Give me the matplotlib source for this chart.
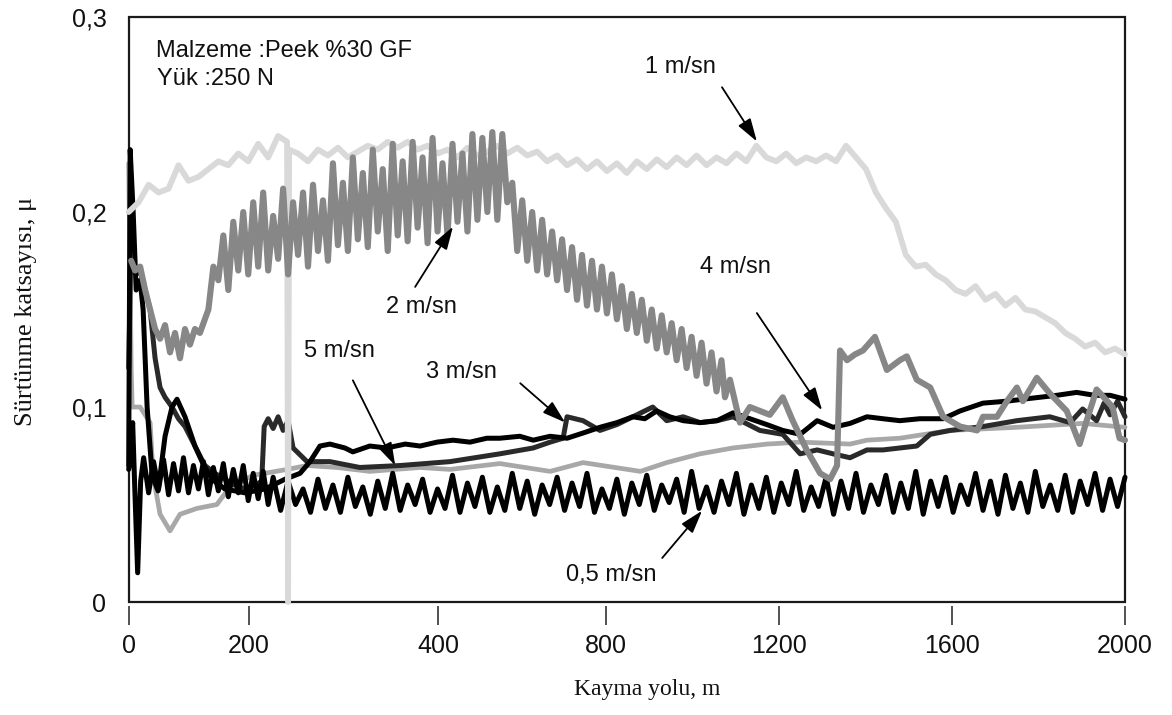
"""Friction coefficient vs sliding distance, PEEK %30 GF at 250 N."""
import numpy as np
import matplotlib
matplotlib.use('Agg')
import matplotlib.pyplot as plt
from matplotlib.patches import Rectangle

SANS = ['Liberation Sans', 'DejaVu Sans']
SERIF = ['Liberation Serif', 'DejaVu Serif']
INK = '#111111'

# x tick marks sit at uneven spots in the original figure
XTICK_POS = [0, 241, 621, 958, 1306, 1653, 2000]
XTICK_LABELS = ['0', '200', '400', '800', '1200', '1600', '2000']
YTICKS = [0, 0.1, 0.2, 0.3]
YTICK_LABELS = ['0', '0,1', '0,2', '0,3']

# ---- 1 m/sn (light grey) ----
X_1 = [0, 20, 40, 60, 80, 100, 120, 140, 160, 180, 200, 220, 240, 260, 280, 300,
       318, 320, 322, 340, 360, 380, 400, 420, 440, 460, 480, 500, 520, 540, 560,
       580, 600, 620, 640, 660, 680, 700, 720, 740, 760, 780, 800, 820, 840, 860,
       880, 900, 920, 940, 960, 980, 1000, 1020, 1040, 1060, 1080, 1100, 1120,
       1140, 1160, 1180, 1200, 1220, 1240, 1260, 1280, 1300, 1320, 1340, 1360,
       1380, 1400, 1420, 1440, 1460, 1480, 1500, 1520, 1540, 1560, 1580, 1600,
       1620, 1640, 1660, 1680, 1700, 1720, 1740, 1760, 1780, 1800, 1820, 1840,
       1860, 1880, 1900, 1920, 1940, 1960, 1980, 2000]
Y_1 = [0.200, 0.205, 0.214, 0.210, 0.212, 0.224, 0.216, 0.218, 0.222, 0.226,
       0.224, 0.230, 0.226, 0.235, 0.228, 0.239, 0.236, 0.0, 0.232, 0.230,
       0.226, 0.232, 0.229, 0.233, 0.228, 0.231, 0.234, 0.232, 0.236, 0.233,
       0.236, 0.232, 0.234, 0.230, 0.232, 0.228, 0.233, 0.229, 0.231, 0.234,
       0.230, 0.233, 0.229, 0.231, 0.226, 0.229, 0.224, 0.227, 0.222, 0.226,
       0.221, 0.225, 0.220, 0.226, 0.222, 0.227, 0.223, 0.228, 0.224, 0.229,
       0.224, 0.228, 0.225, 0.230, 0.226, 0.234, 0.228, 0.226, 0.230, 0.225,
       0.228, 0.226, 0.229, 0.226, 0.234, 0.228, 0.222, 0.210, 0.202, 0.195,
       0.178, 0.172, 0.173, 0.168, 0.165, 0.160, 0.158, 0.162, 0.155, 0.158,
       0.152, 0.156, 0.150, 0.149, 0.146, 0.143, 0.138, 0.135, 0.131, 0.133,
       0.128, 0.130, 0.127]

# ---- 2 m/sn (mid grey) ----
X_2_START = [5, 13, 23, 33, 43, 53, 63, 73, 83, 93, 103, 113, 123, 133, 143, 153]
Y_2_START = [0.175, 0.170, 0.172, 0.160, 0.150, 0.140, 0.135, 0.142, 0.128,
             0.138, 0.125, 0.140, 0.132, 0.140, 0.138, 0.145]
X_2_BAND = np.arange(160, 1191, 10)
Y_2_BAND = [0.150, 0.172, 0.165, 0.188, 0.160, 0.195, 0.170, 0.200, 0.168, 0.205,
            0.172, 0.210, 0.170, 0.198, 0.176, 0.212, 0.168, 0.205, 0.178, 0.210,
            0.172, 0.214, 0.180, 0.206, 0.175, 0.225, 0.183, 0.215, 0.180, 0.228,
            0.186, 0.220, 0.182, 0.232, 0.190, 0.222, 0.180, 0.235, 0.188, 0.226,
            0.185, 0.236, 0.192, 0.228, 0.184, 0.238, 0.190, 0.225, 0.188, 0.235,
            0.195, 0.230, 0.190, 0.240, 0.196, 0.238, 0.200, 0.241, 0.196, 0.240,
            0.205, 0.215, 0.180, 0.206, 0.175, 0.200, 0.170, 0.196, 0.168, 0.190,
            0.165, 0.186, 0.160, 0.182, 0.155, 0.178, 0.152, 0.175, 0.150, 0.172,
            0.148, 0.168, 0.145, 0.162, 0.140, 0.158, 0.138, 0.155, 0.134, 0.150,
            0.130, 0.147, 0.128, 0.143, 0.124, 0.140, 0.120, 0.136, 0.116, 0.133,
            0.112, 0.128, 0.108, 0.124]
X_2_END = [1197, 1207, 1227, 1247, 1267, 1287, 1313, 1333, 1361, 1388, 1408, 1422,
           1428, 1442, 1458, 1474, 1498, 1522, 1548, 1562, 1582, 1609, 1635, 1669,
           1703, 1715, 1743, 1763, 1783, 1795, 1823, 1849, 1883, 1909, 1923, 1943,
           1975, 1989, 2000]
Y_2_END = [0.105, 0.114, 0.092, 0.100, 0.098, 0.096, 0.105, 0.093, 0.078, 0.066,
           0.063, 0.070, 0.129, 0.124, 0.127, 0.129, 0.136, 0.119, 0.124, 0.126,
           0.114, 0.110, 0.095, 0.090, 0.088, 0.095, 0.095, 0.103, 0.110, 0.103,
           0.115, 0.107, 0.098, 0.081, 0.093, 0.109, 0.100, 0.084, 0.083]

# ---- 3 m/sn (dark grey) ----
X_3 = [0, 4, 15, 23, 33, 43, 53, 63, 73, 87, 100, 113, 133, 153, 173, 193, 213,
       233, 255, 267, 272, 280, 290, 300, 310, 320, 330, 358, 404, 464, 545, 645,
       745, 812, 846, 872, 880, 912, 946, 980, 1012, 1052, 1080, 1113, 1147, 1181,
       1213, 1267, 1313, 1348, 1382, 1414, 1448, 1482, 1514, 1548, 1582, 1609,
       1649, 1715, 1783, 1849, 1890, 1915, 1943, 1958, 1970, 1985, 2000]
Y_3 = [0.120, 0.175, 0.168, 0.170, 0.160, 0.150, 0.125, 0.110, 0.105, 0.100,
       0.094, 0.090, 0.080, 0.070, 0.066, 0.063, 0.060, 0.058, 0.060, 0.062,
       0.090, 0.094, 0.089, 0.095, 0.088, 0.093, 0.079, 0.072, 0.072, 0.069,
       0.070, 0.072, 0.076, 0.079, 0.082, 0.084, 0.095, 0.093, 0.088, 0.091,
       0.095, 0.100, 0.093, 0.095, 0.092, 0.093, 0.095, 0.088, 0.086, 0.076,
       0.078, 0.076, 0.074, 0.078, 0.078, 0.079, 0.080, 0.086, 0.088, 0.090,
       0.093, 0.095, 0.092, 0.099, 0.093, 0.102, 0.096, 0.103, 0.095]

# ---- 4 m/sn (black, upper) ----
X_4 = [0, 3, 9, 15, 23, 29, 37, 47, 59, 73, 87, 97, 113, 133, 149, 167, 193, 233,
       274, 314, 344, 364, 384, 404, 434, 450, 484, 518, 555, 585, 619, 651, 685,
       719, 745, 785, 812, 846, 880, 916, 946, 980, 1012, 1036, 1060, 1086, 1113,
       1147, 1181, 1213, 1247, 1281, 1313, 1348, 1382, 1414, 1448, 1482, 1514,
       1548, 1588, 1635, 1669, 1715, 1763, 1795, 1829, 1863, 1903, 1939, 1970, 2000]
Y_4 = [0.070, 0.232, 0.200, 0.160, 0.165, 0.150, 0.100, 0.065, 0.057, 0.085,
       0.100, 0.104, 0.095, 0.080, 0.071, 0.063, 0.058, 0.056, 0.058, 0.063,
       0.066, 0.072, 0.080, 0.081, 0.079, 0.077, 0.080, 0.079, 0.081, 0.080,
       0.082, 0.083, 0.082, 0.084, 0.084, 0.085, 0.083, 0.085, 0.084, 0.087,
       0.0896, 0.092, 0.095, 0.094, 0.098, 0.095, 0.093, 0.092, 0.093, 0.097,
       0.094, 0.091, 0.088, 0.086, 0.093, 0.0896, 0.0916, 0.095, 0.094, 0.093,
       0.094, 0.094, 0.098, 0.102, 0.103, 0.104, 0.105, 0.106, 0.1075, 0.106,
       0.106, 0.104]

# ---- 5 m/sn (light-mid grey) ----
X_5 = [0, 5, 7, 23, 43, 49, 63, 83, 103, 137, 177, 203, 250, 318, 358, 418, 484,
       585, 645, 745, 846, 912, 976, 1027, 1080, 1147, 1213, 1281, 1348, 1448,
       1482, 1548, 1649, 1783, 1915, 2000]
Y_5 = [0.225, 0.120, 0.100, 0.100, 0.092, 0.065, 0.045, 0.0365, 0.045, 0.048,
       0.050, 0.059, 0.065, 0.068, 0.070, 0.069, 0.067, 0.069, 0.068, 0.071,
       0.067, 0.0715, 0.069, 0.067, 0.0715, 0.076, 0.079, 0.081, 0.082, 0.081,
       0.083, 0.084, 0.088, 0.0896, 0.0916, 0.0896]

# ---- 0,5 m/sn (black, oscillating) ----
X_05_START = [0, 4, 8, 12, 18, 24]
Y_05_START = [0.068, 0.075, 0.092, 0.060, 0.015, 0.062]
X_05_EARLY = np.arange(30, 281, 10)
Y_05_EARLY = [0.074, 0.056, 0.072, 0.058, 0.073, 0.055, 0.071, 0.057, 0.074, 0.056,
              0.070, 0.058, 0.072, 0.055, 0.069, 0.057, 0.071, 0.054, 0.068, 0.056,
              0.070, 0.052, 0.066, 0.053, 0.067, 0.050]
X_05_LATE = np.arange(290, 2001, 15)
Y_05_LATE = [0.064, 0.047, 0.062, 0.050, 0.058, 0.046, 0.063, 0.048, 0.060, 0.046,
             0.064, 0.049, 0.059, 0.045, 0.062, 0.048, 0.066, 0.047, 0.060, 0.050,
             0.063, 0.046, 0.058, 0.048, 0.065, 0.046, 0.061, 0.049, 0.064, 0.046,
             0.059, 0.047, 0.066, 0.048, 0.062, 0.045, 0.060, 0.050, 0.064, 0.047,
             0.061, 0.049, 0.066, 0.046, 0.058, 0.048, 0.063, 0.045, 0.061, 0.050,
             0.065, 0.047, 0.060, 0.051, 0.063, 0.046, 0.067, 0.048, 0.059, 0.046,
             0.062, 0.050, 0.066, 0.045, 0.060, 0.048, 0.064, 0.046, 0.061, 0.050,
             0.067, 0.047, 0.059, 0.049, 0.064, 0.045, 0.062, 0.048, 0.066, 0.046,
             0.060, 0.050, 0.065, 0.046, 0.061, 0.048, 0.067, 0.045, 0.062, 0.049,
             0.064, 0.046, 0.060, 0.050, 0.066, 0.047, 0.062, 0.045, 0.065, 0.048,
             0.061, 0.046, 0.067, 0.049, 0.060, 0.047, 0.065, 0.046, 0.062, 0.050,
             0.066, 0.047, 0.063, 0.049, 0.064]

# label text, label centre, arrow tail, arrow tip (data coords)
LABELS = [
    ('1 m/sn', (1107, 0.2743), (1191, 0.264), (1261, 0.2362)),
    ('2 m/sn', (587, 0.1515), (575, 0.1616), (651, 0.1925)),
    ('4 m/sn', (1218, 0.1720), (1261, 0.1482), (1392, 0.0983)),
    ('5 m/sn', (424, 0.1287), (450, 0.1137), (535, 0.0700)),
    ('3 m/sn', (667, 0.1178), (786, 0.1122), (876, 0.0921)),
    ('0,5 m/sn', (968, 0.0140), (1071, 0.0226), (1151, 0.0468)),
]

fig = plt.figure(figsize=(11.72, 7.15), dpi=100)
ax = fig.add_axes([0.1098, 0.158, 0.8501, 0.8182])
ax.set_xlim(0, 2000)
ax.set_ylim(0, 0.3)

line_kw = dict(solid_joinstyle='round', solid_capstyle='round', clip_on=False)
ax.plot(X_5, Y_5, color='#a8a8a8', lw=3.4, zorder=3, **line_kw)
ax.plot(X_3, Y_3, color='#2a2a2a', lw=3.6, zorder=4, **line_kw)
ax.plot(X_4, Y_4, color='black', lw=3.6, zorder=5, **line_kw)
ax.plot(np.concatenate([X_05_START, X_05_EARLY, X_05_LATE]),
        np.concatenate([Y_05_START, Y_05_EARLY, Y_05_LATE]),
        color='black', lw=3.6, zorder=6, **line_kw)
ax.plot(X_1, Y_1, color='#d9d9d9', lw=4.2, zorder=7, **line_kw)
ax.plot(np.concatenate([X_2_START, X_2_BAND, X_2_END]),
        np.concatenate([Y_2_START, Y_2_BAND, Y_2_END]),
        color='#878787', lw=4.4, zorder=8, **line_kw)

for text, (tx, ty), tail, tip in LABELS:
    ax.text(tx, ty, text, ha='center', va='center', fontsize=17,
            family=SANS, color=INK, zorder=10)
    ax.annotate('', xy=tip, xytext=tail, zorder=10,
                arrowprops=dict(arrowstyle='-|>,head_length=0.7,head_width=0.22',
                                mutation_scale=20, lw=1.3, color='black',
                                shrinkA=0, shrinkB=0))

ax.text(55, 0.2825, 'Malzeme :Peek %30 GF', ha='left', va='center',
        fontsize=17, family=SANS, color=INK)
ax.text(56, 0.268, 'Yük :250 N', ha='left', va='center',
        fontsize=17, family=SANS, color=INK)

# frame drawn as a patch so the x ticks can hang below it with a small gap
for s in ax.spines.values():
    s.set_visible(False)
ax.add_patch(Rectangle((0, 0), 1, 1, transform=ax.transAxes, fill=False,
                       lw=1.6, edgecolor='#1a1a1a', zorder=2, clip_on=False))
ax.spines['bottom'].set_position(('outward', 3))

ax.set_xticks(XTICK_POS)
ax.set_xticklabels(XTICK_LABELS, family=SANS, fontsize=18, color=INK)
ax.set_yticks(YTICKS)
ax.set_yticklabels(YTICK_LABELS, family=SANS, fontsize=18, color=INK)
ax.tick_params(axis='x', direction='out', length=14, width=1.3, color='#444444', pad=6)
ax.tick_params(axis='y', length=0, pad=16)

fig.text(0.552, 0.035, 'Kayma yolu, m', ha='center', va='center',
         fontsize=17, family=SERIF, color=INK)
fig.text(0.022, 0.565, 'Sürtünme katsayısı, μ', ha='center', va='center',
         rotation=90, fontsize=19, family=SERIF, color=INK)

fig.savefig('out.png', dpi=100, facecolor='white')
